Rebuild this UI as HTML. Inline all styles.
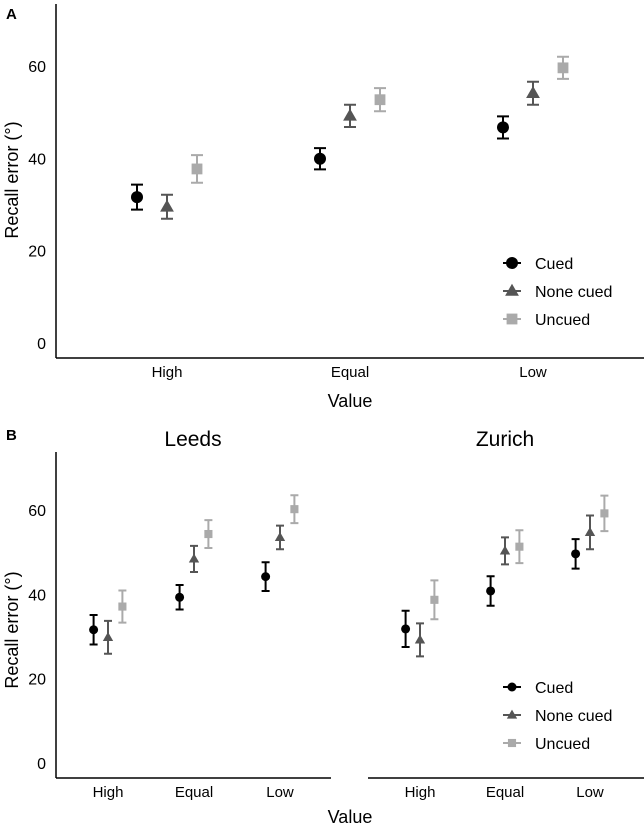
<!DOCTYPE html>
<html><head><meta charset="utf-8"><style>
html,body{margin:0;padding:0;background:#fff}
svg{display:block;font-family:"Liberation Sans",Arial,sans-serif}
</style></head><body>
<svg id="fig" width="644" height="826" viewBox="0 0 644 826">
<text x="6" y="19" font-size="15" font-weight="bold">A</text>
<text x="6" y="440" font-size="15" font-weight="bold">B</text>
<text x="193" y="446" font-size="21" text-anchor="middle">Leeds</text>
<text x="505" y="446" font-size="21" text-anchor="middle">Zurich</text>
<text x="350" y="407" font-size="18" text-anchor="middle">Value</text>
<text x="350" y="823" font-size="18" text-anchor="middle">Value</text>
<text transform="translate(18,180) rotate(-90)" font-size="18" text-anchor="middle">Recall error (°)</text>
<text transform="translate(18,630) rotate(-90)" font-size="18" text-anchor="middle">Recall error (°)</text>
<g id="plots"></g>
</svg>
<script>
const categories = ["High","Equal","Low"];
const series = ["Cued","None cued","Uncued"];
const yTicks = [0,20,40,60];
const aMeans = [[31.6,39.9,46.7],[29.5,49.2,54.1],[37.7,52.7,59.6]];
const aErr = [[2.7,2.3,2.4],[2.6,2.4,2.5],[3.0,2.5,2.4]];
const leedsMeans = [[31.6,39.3,44.2],[29.8,48.4,53.5],[37.1,54.3,60.2]];
const leedsErr = [[3.5,2.9,3.4],[3.9,3.1,2.8],[3.8,3.3,3.3]];
const zurichMeans = [[31.8,40.8,49.6],[29.2,50.3,54.7],[38.7,51.3,59.2]];
const zurichErr = [[4.3,3.5,3.5],[3.9,3.2,4.0],[4.6,3.9,4.2]];

const NS="http://www.w3.org/2000/svg";
const root=document.getElementById('plots');
const colors=["#000","#555","#aaa"];
function mk(t,a,p){const e=document.createElementNS(NS,t);for(const k in a)e.setAttribute(k,a[k]);(p||root).appendChild(e);return e;}
function marker(g,s,x,y,r,c){
  let e;
  if(s===0) e=mk('circle',{cx:x,cy:y,r:r,fill:c},g);
  else if(s===1) e=mk('polygon',{points:`${x},${y-r*1.2} ${x-r*1.15},${y+r*0.8} ${x+r*1.15},${y+r*0.8}`,fill:c},g);
  else e=mk('rect',{x:x-r*0.9,y:y-r*0.9,width:r*1.8,height:r*1.8,fill:c},g);
  return e;
}
function panel(o){
  const g=mk('g',{});
  
  
  const y=v=>o.y0-(v-0)*(o.y0-o.y60)/60;
  const x=i=>o.cx[0]+i*(o.cx[1]-o.cx[0]);
  if(o.yaxis){
    const ax=mk('line',{x1:o.x0,y1:o.top,x2:o.x0,y2:o.bottom,stroke:'#000','stroke-width':1.5},g);
    
    
    yTicks.forEach(t=>{const tx=mk('text',{x:o.x0-10,y:y(t)+6,'font-size':16,'text-anchor':'end'},g);tx.textContent=t;
      
      });
  }
  const xl=mk('line',{x1:o.x0,y1:o.bottom,x2:o.x1,y2:o.bottom,stroke:'#000','stroke-width':1.5},g);
  
  
  categories.forEach((c,i)=>{const t=mk('text',{x:x(i),y:o.bottom+19,'font-size':15,'text-anchor':'middle'},g);t.textContent=c;
    
    });
  series.forEach((s,si)=>{
    categories.forEach((c,ci)=>{
      const px=x(ci)+(si-1)*o.off, m=o.means[si][ci], e=o.err[si][ci];
      const col=colors[si], hw=o.cap;
      const eb=mk('path',{d:`M${px},${y(m-e)}V${y(m+e)}M${px-hw},${y(m-e)}h${2*hw}M${px-hw},${y(m+e)}h${2*hw}`,stroke:col,'stroke-width':2,fill:'none'},g);
      
      
      const mm=marker(g,si,px,y(m),o.r,col);
      
      
    });
  });
  if(o.legend){
    series.forEach((s,si)=>{
      const ly=o.legend[1]+si*28;
      const lg=mk('g',{},g);
      
      
      mk('line',{x1:o.legend[0]-9,y1:ly,x2:o.legend[0]+9,y2:ly,stroke:colors[si],'stroke-width':2},lg);
      marker(lg,si,o.legend[0],ly,o.r,colors[si]);
      const t=mk('text',{x:o.legend[0]+23,y:ly+6,'font-size':16},lg);t.textContent=s;
    });
  }
}
panel({name:'panel-a',x0:56,x1:644,top:4,bottom:358,y0:343,y60:66,cx:[167,350],off:30,r:6,cap:6,means:aMeans,err:aErr,yaxis:true,legend:[512,263]});
panel({name:'panel-b-leeds',x0:56,x1:331,top:452,bottom:778,y0:763,y60:510,cx:[108,194],off:14.4,r:4.5,cap:4,means:leedsMeans,err:leedsErr,yaxis:true});
panel({name:'panel-b-zurich',x0:368,x1:644,top:452,bottom:778,y0:763,y60:510,cx:[420,505],off:14.4,r:4.5,cap:4,means:zurichMeans,err:zurichErr,yaxis:false,legend:[512,687]});
</script>
</body></html>
